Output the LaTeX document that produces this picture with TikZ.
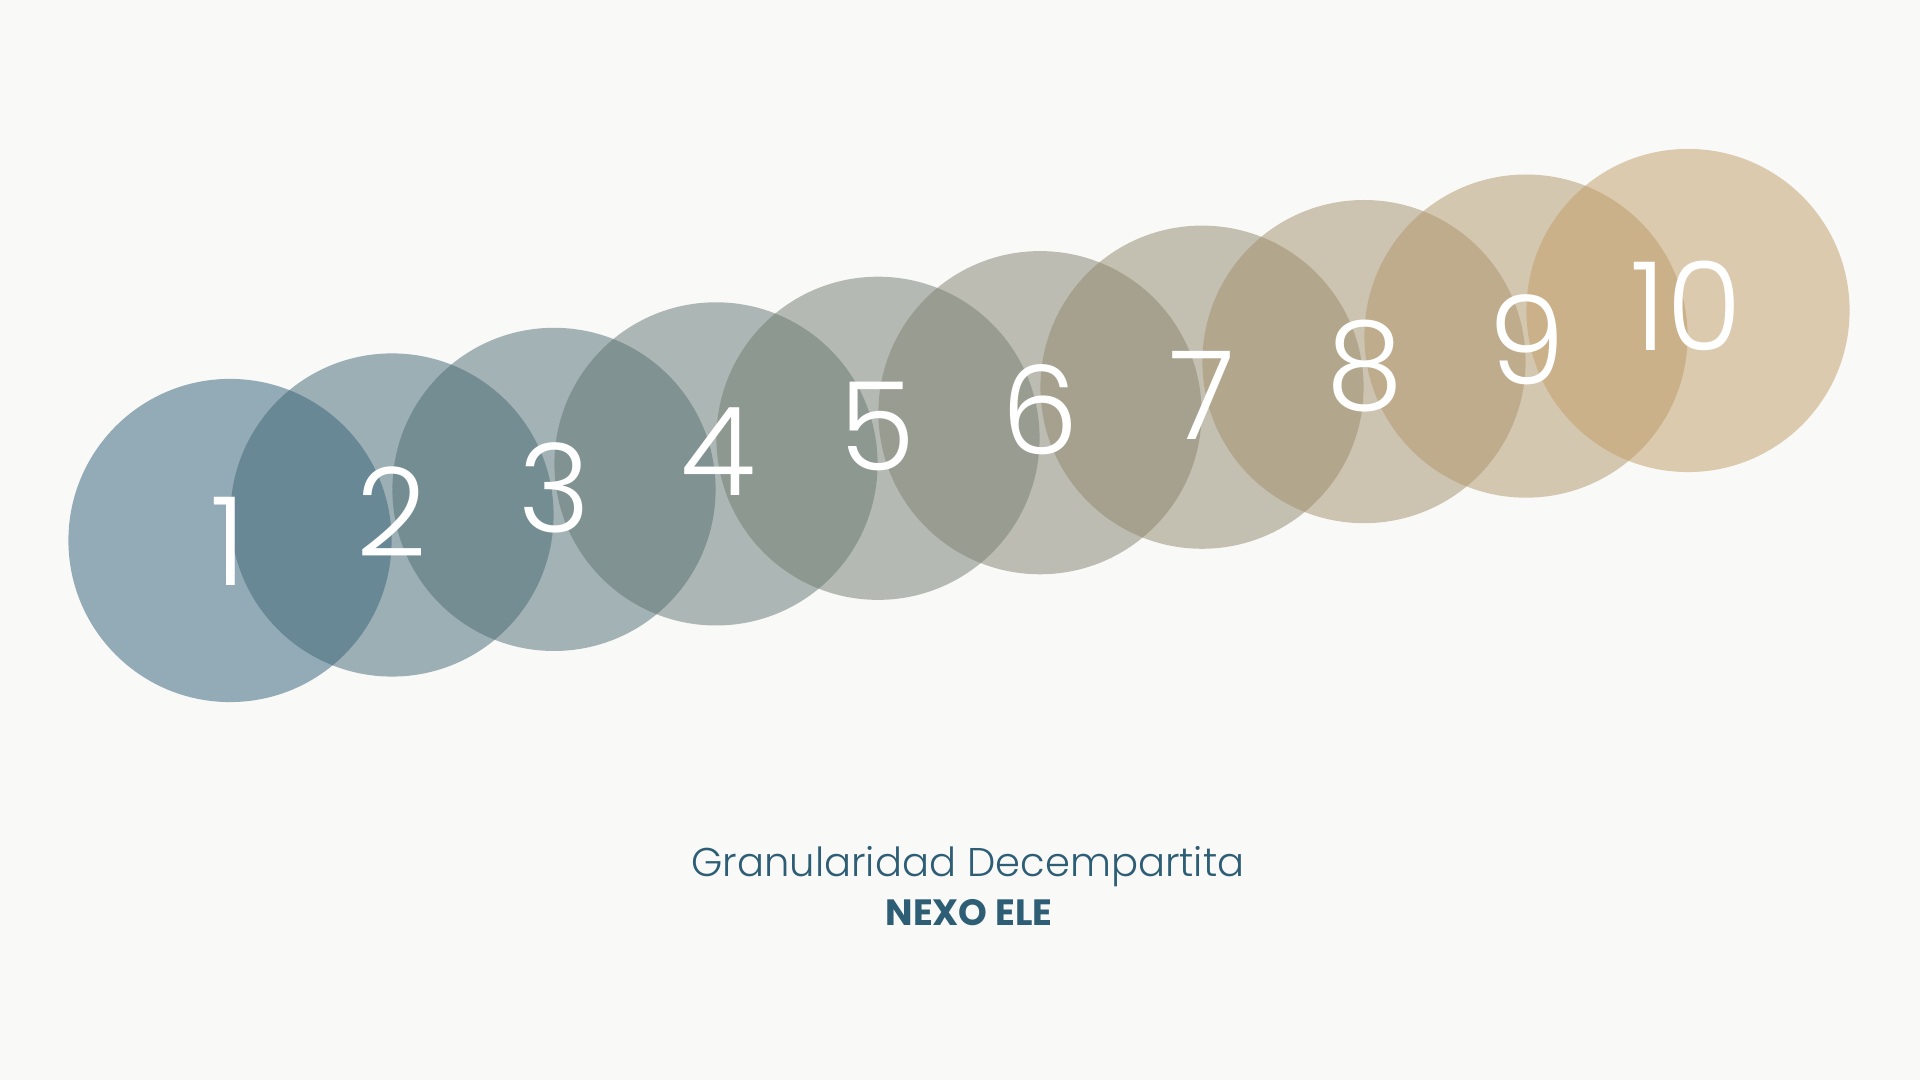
\documentclass[tikz,border=0pt]{standalone}
\usepackage{fontspec}
\setmainfont{Poppins}
\newfontfamily\thinfont{Poppins Light}
\usepackage{tikz}
\usetikzlibrary{positioning}

\definecolor{paper}{HTML}{F9F9F7}
\definecolor{nexoblue}{HTML}{2E5E75}
\definecolor{g1}{RGB}{47,95,119}
\definecolor{g2}{RGB}{63,102,117}
\definecolor{g3}{RGB}{79,109,115}
\definecolor{g4}{RGB}{96,116,114}
\definecolor{g5}{RGB}{112,123,112}
\definecolor{g6}{RGB}{128,129,110}
\definecolor{g7}{RGB}{144,136,108}
\definecolor{g8}{RGB}{161,143,107}
\definecolor{g9}{RGB}{177,150,105}
\definecolor{g10}{RGB}{193,157,103}

\tikzset{
    disc/.style={circle, minimum size=3.23cm, inner sep=0pt, fill opacity=0.5},
    num/.style={text=white, inner sep=0pt, font=\thinfont\fontsize{35}{35}\selectfont},
}

\begin{document}
\begin{tikzpicture}[x=0.01cm, y=-0.01cm]
                \useasboundingbox (0,0) rectangle (1920,1080);
                \fill[paper] (0,0) rectangle (1920,1080);

                \node[disc, fill=g1] (c1) at (230, 540.5) {};
                \node[disc, fill=g2] (c2) at (392, 515) {};
                \node[disc, fill=g3] (c3) at (554, 489.4) {};
                \node[disc, fill=g4] (c4) at (716, 463.9) {};
                \node[disc, fill=g5] (c5) at (878, 438.3) {};
                \node[disc, fill=g6] (c6) at (1040, 412.7) {};
                \node[disc, fill=g7] (c7) at (1202, 387.2) {};
                \node[disc, fill=g8] (c8) at (1364, 361.6) {};
                \node[disc, fill=g9] (c9) at (1526, 336.1) {};
                \node[disc, fill=g10] (c10) at (1688, 310.5) {};

                \node[num] (n1) at (228, 541) {1};
                \node[num] (n2) at (392, 511.5) {2};
                \node[num] (n3) at (554, 487.5) {3};
                \node[num] (n4) at (718, 452) {4};
                \node[num] (n5) at (877, 427) {5};
                \node[num] (n6) at (1040, 410) {6};
                \node[num] (n7) at (1202, 395) {7};
                \node[num] (n8) at (1365, 366) {8};
                \node[num] (n9) at (1527, 340) {9};
                \node[num] (n10) at (1686, 306) {10};

                \node[anchor=base, text=nexoblue, font=\thinfont\fontsize{11.4}{11.4}\selectfont] (title) at (968, 877) {Granularidad Decempartita};
                \node[anchor=base, text=nexoblue, font=\bfseries\fontsize{10.4}{10.4}\selectfont] (brand) at (969, 926) {NEXO ELE};
            \end{tikzpicture}
\end{document}
